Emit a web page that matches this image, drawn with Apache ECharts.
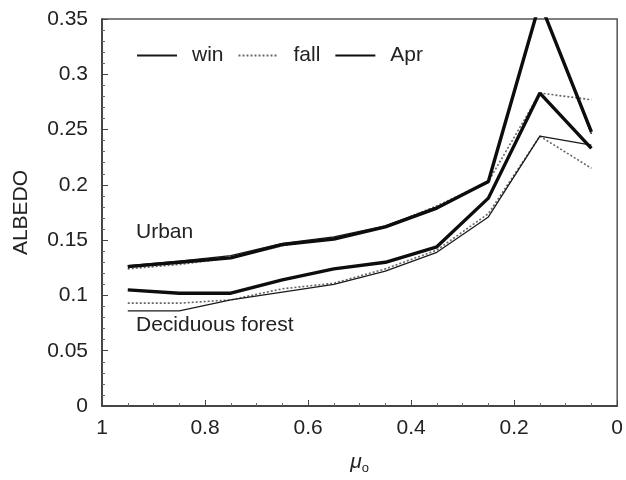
<!DOCTYPE html>
<html>
<head>
<meta charset="utf-8">
<script src="https://cdn.jsdelivr.net/npm/echarts@6/dist/echarts.min.js"></script>
<style>
html, body { margin: 0; padding: 0; background: #fff; }
#main { width: 626px; height: 480px; }
</style>
</head>
<body>
<div id="main"></div>
<script>
// cosine of solar zenith angle
var mu = [0.95, 0.85, 0.75, 0.65, 0.55, 0.45, 0.35, 0.25, 0.15, 0.05];

// Urban
var urbanWin = [0.127, 0.131, 0.136, 0.147, 0.153, 0.163, 0.180, 0.202, 0.365, 0.246];
var urbanFall = [0.124, 0.128, 0.134, 0.145, 0.152, 0.162, 0.181, 0.203, 0.283, 0.277];
var urbanApr = [0.126, 0.130, 0.134, 0.146, 0.151, 0.162, 0.179, 0.203, 0.365, 0.248];

// Deciduous forest
var decidWin = [0.086, 0.086, 0.096, 0.103, 0.110, 0.122, 0.139, 0.171, 0.244, 0.236];
var decidFall = [0.093, 0.093, 0.096, 0.106, 0.111, 0.124, 0.141, 0.174, 0.244, 0.215];
var decidApr = [0.105, 0.102, 0.102, 0.114, 0.124, 0.130, 0.144, 0.188, 0.283, 0.233];

var yTicks = ['0', '0.05', '0.1', '0.15', '0.2', '0.25', '0.3', '0.35'];

function pairs(vals) {
    return mu.map(function (m, i) { return [m, vals[i]]; });
}

var FONT = 'Liberation Sans, Arial, sans-serif';
var styles = {
    win: { color: '#1a1a1a', width: 1.3, type: 'solid' },
    fall: { color: '#666', width: 1.6, type: [2, 2] },
    Apr: { color: '#0d0d0d', width: 3.4, type: 'solid' }
};

function line(name, vals) {
    var s = styles[name];
    return {
        name: name,
        type: 'line',
        data: pairs(vals),
        symbol: 'none',
        clip: true,
        color: s.color,
        lineStyle: { color: s.color, width: s.width, type: s.type },
        z: name === 'Apr' ? 3 : (name === 'win' ? 2 : 1)
    };
}

var myChart = echarts.init(document.getElementById('main'));

myChart.setOption({
    animation: false,
    backgroundColor: '#fff',
    textStyle: { fontFamily: FONT },
    grid: {
        left: 102, right: 8, top: 19, bottom: 73,
        show: true, borderColor: '#555', borderWidth: 1.5
    },
    legend: {
        data: ['win', 'fall', 'Apr'],
        left: 131, top: 40,
        itemWidth: 40, itemHeight: 12, itemGap: 14,
        itemStyle: { opacity: 0 },
        textStyle: { fontSize: 21, color: '#222', fontFamily: FONT, padding: [0, 0, 0, 10] }
    },
    xAxis: {
        type: 'value',
        inverse: true,
        min: 0, max: 1, interval: 0.2,
        name: '{mu|μ}{sub|o}',
        nameLocation: 'middle',
        nameGap: 44,
        nameTextStyle: {
            rich: {
                mu: { fontSize: 21, fontStyle: 'italic', color: '#222', fontFamily: FONT },
                sub: { fontSize: 13, color: '#222', fontFamily: FONT, padding: [12, 0, 0, 0] }
            }
        },
        axisLine: { onZero: false, lineStyle: { color: '#333', width: 1.5 } },
        axisTick: { inside: true, length: 6, lineStyle: { color: '#444' } },
        minorTick: { show: true, splitNumber: 4, length: 3, lineStyle: { color: '#666' } },
        splitLine: { show: false },
        axisLabel: {
            fontSize: 21, color: '#222', margin: 12,
            formatter: function (v) { return String(Math.round(v * 10) / 10); }
        }
    },
    yAxis: {
        type: 'value',
        min: 0, max: 0.35, interval: 0.05,
        name: 'ALBEDO',
        nameLocation: 'middle',
        nameGap: 70,
        nameTextStyle: { fontSize: 21, color: '#222', fontFamily: FONT },
        axisLine: { onZero: false, lineStyle: { color: '#333', width: 1.5 } },
        axisTick: { inside: true, length: 6, lineStyle: { color: '#444' } },
        minorTick: { show: true, splitNumber: 5, length: 3, lineStyle: { color: '#666' } },
        splitLine: { show: false },
        axisLabel: {
            fontSize: 21, color: '#222', margin: 14,
            formatter: function (v) { return yTicks[Math.round(v / 0.05)]; }
        }
    },
    graphic: [
        { type: 'text', left: 136, top: 222, style: { text: 'Urban', fontSize: 21, fill: '#222', fontFamily: FONT } },
        { type: 'text', left: 136, top: 315, style: { text: 'Deciduous forest', fontSize: 21, fill: '#222', fontFamily: FONT } }
    ],
    series: [
        line('fall', urbanFall),
        line('fall', decidFall),
        line('win', urbanWin),
        line('win', decidWin),
        line('Apr', urbanApr),
        line('Apr', decidApr)
    ]
});
</script>
</body>
</html>
